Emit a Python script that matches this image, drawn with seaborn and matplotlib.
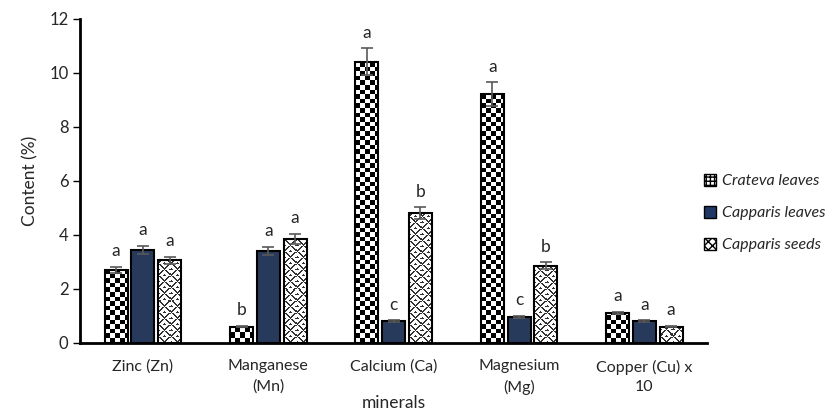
import numpy as np
import pandas as pd
import matplotlib
matplotlib.use('Agg')
import matplotlib.pyplot as plt
import seaborn as sns
from matplotlib.patches import Patch

minerals = ['Zinc (Zn)', 'Manganese\n(Mn)', 'Calcium (Ca)', 'Magnesium\n(Mg)', 'Copper (Cu) x\n10']
samples = ['Crateva leaves', 'Capparis leaves', 'Capparis seeds']

crateva = [2.7, 0.6, 10.4, 9.2, 1.1]
capparis_leaves = [3.45, 3.4, 0.8, 0.95, 0.8]
capparis_seeds = [3.05, 3.85, 4.8, 2.85, 0.6]

crateva_err = [0.12, 0.03, 0.5, 0.45, 0.05]
leaves_err = [0.15, 0.15, 0.04, 0.05, 0.03]
seeds_err = [0.13, 0.18, 0.22, 0.13, 0.02]

crateva_lbl = ['a', 'b', 'a', 'a', 'a']
leaves_lbl = ['a', 'a', 'c', 'c', 'a']
seeds_lbl = ['a', 'a', 'b', 'b', 'a']

df = pd.DataFrame({
    'mineral': minerals * 3,
    'sample': [s for s in samples for _ in minerals],
    'value': crateva + capparis_leaves + capparis_seeds,
})
errs = [crateva_err, leaves_err, seeds_err]
lbls = [crateva_lbl, leaves_lbl, seeds_lbl]

sns.set_style('white')
plt.rcParams['font.family'] = ['Lato', 'DejaVu Sans']

fig = plt.figure(figsize=(8.27, 4.13), dpi=100)
ax = fig.add_axes([0.097, 0.17, 0.758, 0.785])

sns.barplot(data=df, x='mineral', y='value', hue='sample', order=minerals,
            hue_order=samples, palette=['white', '#1F3864', 'white'],
            width=0.64, gap=0.14, edgecolor='black', linewidth=1.5,
            errorbar=None, legend=False, ax=ax)

ax.set_xlim(-0.5, 4.5)
ax.set_ylim(0, 12)
fig.canvas.draw()
bb = ax.get_window_extent()
px_y = bb.height / 12.0
px_x = bb.width / 5.0


def checker(wpx, hpx):
    r = np.arange(hpx)[:, None] // 4.6
    c = np.arange(wpx)[None, :] // 4.6
    return ((r + c) % 2).astype(float)


def herring(wpx, hpx):
    r = np.arange(hpx)[:, None]
    c = np.arange(wpx)[None, :]
    blk = (r // 6 + c // 6) % 2
    d = np.where(blk == 0, (r + c) % 6, (r - c) % 6)
    return (d < 2).astype(float) * 0.8


bar_conts = list(ax.containers)
for i, cont in enumerate(bar_conts):
    for j, p in enumerate(cont.patches):
        x0, w, h = p.get_x(), p.get_width(), p.get_height()
        xc = x0 + w / 2
        if i != 1:
            wpx = max(int(round(w * px_x)), 2)
            hpx = max(int(round(h * px_y)), 2)
            img = checker(wpx, hpx) if i == 0 else herring(wpx, hpx)
            im = ax.imshow(img, cmap='gray_r', vmin=0, vmax=1, interpolation='nearest',
                           extent=(x0, x0 + w, 0, h), aspect='auto', zorder=1.5, origin='lower')
            im.set_clip_path(p)
            p.set_facecolor('none')
            p.set_zorder(2)
        ax.errorbar(xc, h, yerr=errs[i][j], fmt='none', ecolor='#595959',
                    elinewidth=1.2, capsize=4, capthick=1.2, zorder=3)
        ax.text(xc, h + errs[i][j] + 0.28, lbls[i][j], ha='center', va='bottom', fontsize=12.5)

ax.set_xlim(-0.5, 4.5)
ax.set_ylim(0, 12)
ax.set_yticks(range(0, 13, 2))
ax.set_xticks(np.arange(-0.5, 5, 1), minor=True)
ax.tick_params(axis='x', which='major', length=0, labelsize=11.5, pad=12)
for t in ax.get_xticklabels():
    t.set_linespacing(1.5)
ax.tick_params(axis='x', which='minor', length=5, width=1, direction='out', color='black')
ax.tick_params(axis='y', length=5, width=1, direction='out', labelsize=12, color='black', left=True)
for s in ['top', 'right']:
    ax.spines[s].set_visible(False)
for s in ['left', 'bottom']:
    ax.spines[s].set_color('black')
    ax.spines[s].set_linewidth(2)
ax.set_xlabel('minerals', fontsize=12.5, labelpad=0)
ax.set_ylabel('Content (%)', fontsize=12.5, labelpad=8)

handles = [Patch(facecolor='white', edgecolor='black', hatch='++++'),
           Patch(facecolor='#1F3864', edgecolor='black'),
           Patch(facecolor='white', edgecolor='black', hatch='xxxx')]
leg = ax.legend(handles, samples, loc='center left', bbox_to_anchor=(0.985, 0.40),
                frameon=False, prop={'style': 'italic', 'size': 11.5}, borderaxespad=0,
                handlelength=0.75, handleheight=0.75, handletextpad=0.35, labelspacing=1.1)

fig.savefig('out.png', dpi=100)
